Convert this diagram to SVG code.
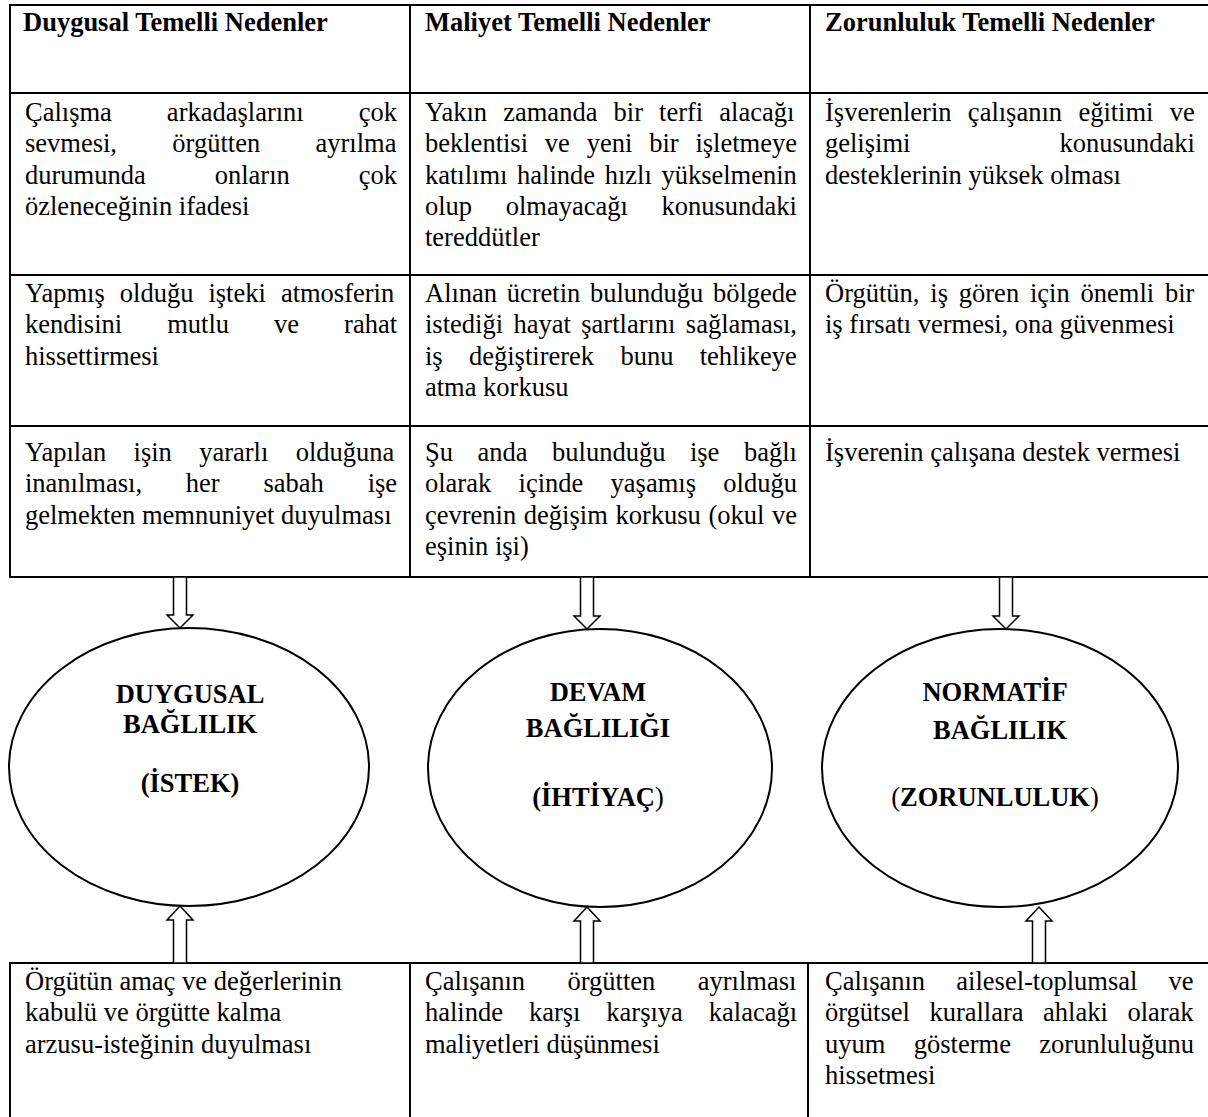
<svg xmlns="http://www.w3.org/2000/svg" width="1208" height="1117" viewBox="0 0 1208 1117">
  <style>
    text { font-family: "Liberation Serif", "Times New Roman", serif; font-size: 26.5px; fill: #000; }
    .b { font-weight: bold; }
    .n { font-weight: normal; }
    .c { text-anchor: middle; }
    .grid line { stroke: #000; stroke-width: 2; }
    .oval { fill: #fff; stroke: #000; stroke-width: 2; }
    .arrow { fill: #fff; stroke: #000; stroke-width: 1.5; stroke-linejoin: miter; }
  </style>
  <rect width="1208" height="1117" fill="#fff"/>

  <!-- upper table grid -->
  <g id="grid-top" class="grid">
    <line x1="10" y1="5" x2="1210" y2="5"/>
    <line x1="10" y1="93" x2="1210" y2="93"/>
    <line x1="10" y1="275" x2="1210" y2="275"/>
    <line x1="10" y1="426" x2="1210" y2="426"/>
    <line x1="10" y1="577" x2="1210" y2="577"/>
    <line x1="10" y1="4" x2="10" y2="578"/>
    <line x1="410" y1="4" x2="410" y2="578"/>
    <line x1="810" y1="4" x2="810" y2="578"/>
  </g>

  <!-- lower table grid -->
  <g id="grid-bottom" class="grid">
    <line x1="9" y1="963" x2="1210" y2="963"/>
    <line x1="10" y1="962" x2="10" y2="1120"/>
    <line x1="410" y1="962" x2="410" y2="1120"/>
    <line x1="808" y1="962" x2="808" y2="1120"/>
  </g>

  <!-- column headers -->
  <g id="head-affective"><text class="b" x="23" y="31">Duygusal Temelli Nedenler</text></g>
  <g id="head-cost"><text class="b" x="425" y="31">Maliyet Temelli Nedenler</text></g>
  <g id="head-obligation"><text class="b" x="825" y="31">Zorunluluk Temelli Nedenler</text></g>

  <!-- row 1 -->
  <g id="r1-affective">
    <text x="25" y="121" style="word-spacing:48.4px">Çalışma arkadaşlarını çok</text>
    <text x="25" y="152" style="word-spacing:48.7px">sevmesi, örgütten ayrılma</text>
    <text x="25" y="184" style="word-spacing:62.4px">durumunda onların çok</text>
    <text x="25" y="215">özleneceğinin ifadesi</text>
  </g>
  <g id="r1-cost">
    <text x="425" y="121" style="word-spacing:9.5px">Yakın zamanda bir terfi alacağı</text>
    <text x="425" y="152" style="word-spacing:10.2px">beklentisi ve yeni bir işletmeye</text>
    <text x="425" y="184" style="word-spacing:3px">katılımı halinde hızlı yükselmenin</text>
    <text x="425" y="215" style="word-spacing:27px">olup olmayacağı konusundaki</text>
    <text x="425" y="246">tereddütler</text>
  </g>
  <g id="r1-obligation">
    <text x="825" y="121" style="word-spacing:9.7px">İşverenlerin çalışanın eğitimi ve</text>
    <text x="825" y="152" style="word-spacing:142.5px">gelişimi konusundaki</text>
    <text x="825" y="184">desteklerinin yüksek olması</text>
  </g>

  <!-- row 2 -->
  <g id="r2-affective">
    <text x="25" y="302" style="word-spacing:8.4px">Yapmış olduğu işteki atmosferin</text>
    <text x="25" y="333" style="word-spacing:38.4px">kendisini mutlu ve rahat</text>
    <text x="25" y="365">hissettirmesi</text>
  </g>
  <g id="r2-cost">
    <text x="425" y="302" style="word-spacing:3px">Alınan ücretin bulunduğu bölgede</text>
    <text x="425" y="333" style="word-spacing:3.8px">istediği hayat şartlarını sağlaması,</text>
    <text x="425" y="365" style="word-spacing:19.7px">iş değiştirerek bunu tehlikeye</text>
    <text x="425" y="396">atma korkusu</text>
  </g>
  <g id="r2-obligation">
    <text x="825" y="302" style="word-spacing:4.2px">Örgütün, iş gören için önemli bir</text>
    <text x="825" y="333">iş fırsatı vermesi, ona güvenmesi</text>
  </g>

  <!-- row 3 -->
  <g id="r3-affective">
    <text x="25" y="461" style="word-spacing:20.7px">Yapılan işin yararlı olduğuna</text>
    <text x="25" y="492" style="word-spacing:37.2px">inanılması, her sabah işe</text>
    <text x="25" y="524">gelmekten memnuniyet duyulması</text>
  </g>
  <g id="r3-cost">
    <text x="425" y="461" style="word-spacing:17.9px">Şu anda bulunduğu işe bağlı</text>
    <text x="425" y="492" style="word-spacing:20.7px">olarak içinde yaşamış olduğu</text>
    <text x="425" y="524" style="word-spacing:1px">çevrenin değişim korkusu (okul ve</text>
    <text x="425" y="555">eşinin işi)</text>
  </g>
  <g id="r3-obligation">
    <text x="825" y="461">İşverenin çalışana destek vermesi</text>
  </g>

  <!-- commitment ovals -->
  <g id="affective-commitment">
    <ellipse class="oval" cx="189" cy="767" rx="180" ry="139"/>
    <text class="b c" x="190" y="703">DUYGUSAL</text>
    <text class="b c" x="190" y="733">BAĞLILIK</text>
    <text class="b c" x="190" y="792">(İSTEK)</text>
  </g>
  <g id="continuance-commitment">
    <ellipse class="oval" cx="600" cy="768" rx="172" ry="139"/>
    <text class="b c" x="598" y="701">DEVAM</text>
    <text class="b c" x="598" y="737">BAĞLILIĞI</text>
    <text class="b c" x="598" y="806">(İHTİYAÇ<tspan class="n">)</tspan></text>
  </g>
  <g id="normative-commitment">
    <ellipse class="oval" cx="1000" cy="768" rx="178" ry="139"/>
    <text class="b c" x="995" y="701">NORMATİF</text>
    <text class="b c" x="1000" y="739">BAĞLILIK</text>
    <text class="b c" x="995" y="806"><tspan class="n">(</tspan>ZORUNLULUK<tspan class="n">)</tspan></text>
  </g>

  <!-- lower table cells -->
  <g id="base-affective">
    <text x="25" y="990">Örgütün amaç ve değerlerinin</text>
    <text x="25" y="1021">kabulü ve örgütte kalma</text>
    <text x="25" y="1053">arzusu-isteğinin duyulması</text>
  </g>
  <g id="base-cost">
    <text x="425" y="990" style="word-spacing:35.8px">Çalışanın örgütten ayrılması</text>
    <text x="425" y="1021" style="word-spacing:19.3px">halinde karşı karşıya kalacağı</text>
    <text x="425" y="1053">maliyetleri düşünmesi</text>
  </g>
  <g id="base-obligation">
    <text x="825" y="990" style="word-spacing:24.6px">Çalışanın ailesel-toplumsal ve</text>
    <text x="825" y="1021" style="word-spacing:12.9px">örgütsel kurallara ahlaki olarak</text>
    <text x="825" y="1053" style="word-spacing:21.8px">uyum gösterme zorunluluğunu</text>
    <text x="825" y="1084">hissetmesi</text>
  </g>

  <!-- block arrows: reasons down into ovals, bases up into ovals -->
  <g id="connectors">
    <polygon class="arrow" points="173.5,577 186.5,577 186.5,615 193,615 180,628 167,615 173.5,615"/>
    <polygon class="arrow" points="580.5,577 593.5,577 593.5,616 600,616 587,629 574,616 580.5,616"/>
    <polygon class="arrow" points="999.5,577 1012.5,577 1012.5,616 1019,616 1006,629 993,616 999.5,616"/>
    <polygon class="arrow" points="180,906 193,920 186.5,920 186.5,963 173.5,963 173.5,920 167,920"/>
    <polygon class="arrow" points="587,907 600,921 593.5,921 593.5,963 580.5,963 580.5,921 574,921"/>
    <polygon class="arrow" points="1039,907 1052,921 1045.5,921 1045.5,963 1032.5,963 1032.5,921 1026,921"/>
  </g>
</svg>
